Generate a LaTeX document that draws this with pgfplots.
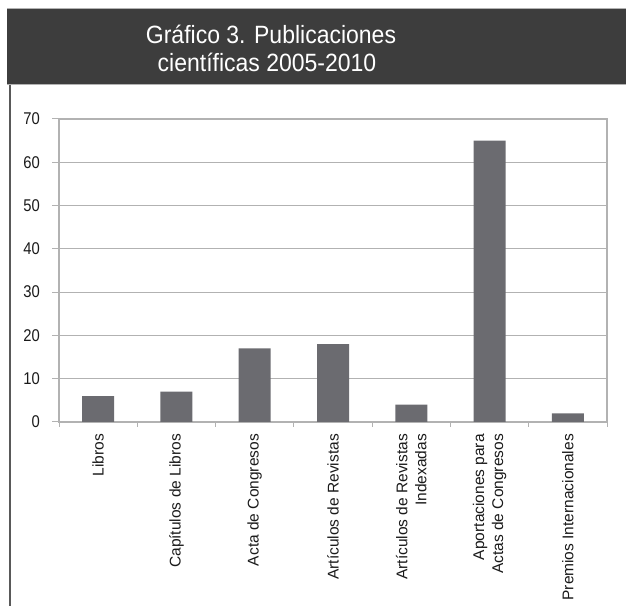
\documentclass[border=0pt]{standalone}
\usepackage{fontspec}
\setmainfont{Liberation Sans}
\newfontfamily\titlefont[FakeStretch=0.92]{Liberation Sans}
\newfontfamily\tickfont[FakeStretch=0.87]{Liberation Sans}
\usepackage{pgfplots}
\pgfplotsset{compat=1.18}
\definecolor{band}{HTML}{3D3D3D}
\definecolor{barc}{HTML}{6B6B70}
\definecolor{gridc}{HTML}{B2B2B2}
\definecolor{txt}{HTML}{1A1A1A}
\begin{document}
\begin{tikzpicture}[x=1bp,y=1bp]
  \useasboundingbox (0,0) rectangle (626,606);
  % title band
  \fill[band] (7,522) rectangle (626,597);
  \draw[gridc,line width=1bp] (7,597.5) -- (626,597.5);
  \draw[gridc,line width=1bp] (7,521.5) -- (626,521.5);
  \node[text=white,font=\titlefont\fontsize{25bp}{28bp}\selectfont,anchor=base]
    at (271,562) {Gráfico 3. Publicaciones};
  \node[text=white,font=\titlefont\fontsize{25bp}{28bp}\selectfont,anchor=base]
    at (267,534) {científicas 2005-2010};
  % frame line on the left
  \draw[black!65,line width=1.5bp] (10,0) -- (10,521);
  \begin{axis}[
    at={(59bp,184bp)}, anchor=south west,
    scale only axis, width=548bp, height=303bp,
    xmin=-0.5, xmax=6.5, ymin=0, ymax=70,
    ytick={0,10,...,70},
    xtick={0,...,6},
    xticklabels={Libros, Capítulos de Libros, Acta de Congresos, Artículos de Revistas,
      {Artículos de Revistas\\Indexadas}, {Aportaciones para\\Actas de Congresos},
      Premios Internacionales},
    minor xtick={-0.5,0.5,...,6.5},
    tick align=outside,
    major tick length=7bp,
    minor tick length=5bp,
    x tick style={draw=none},
    minor x tick style={draw=gridc,line width=1bp},
    y tick style={draw=gridc,line width=1bp},
    ymajorgrids,
    grid style={gridc,line width=1bp},
    axis line style={gridc,line width=1.2bp},
    ytick pos=left, xtick pos=bottom,
    yticklabel style={font=\tickfont\fontsize{17bp}{19bp}\selectfont,text=txt,inner sep=0pt,xshift=-12bp},
    xticklabel style={font=\fontsize{15.5bp}{19bp}\selectfont,text=txt,rotate=90,anchor=east,
      align=right,inner xsep=5bp,inner ysep=0pt},
    /pgf/number format/assume math mode=true,
  ]
    \addplot[ybar, bar width=32bp, fill=barc, draw=none] coordinates {
      (0,6) (1,7) (2,17) (3,18) (4,4) (5,65) (6,2)
    };
  \end{axis}
\end{tikzpicture}
\end{document}
